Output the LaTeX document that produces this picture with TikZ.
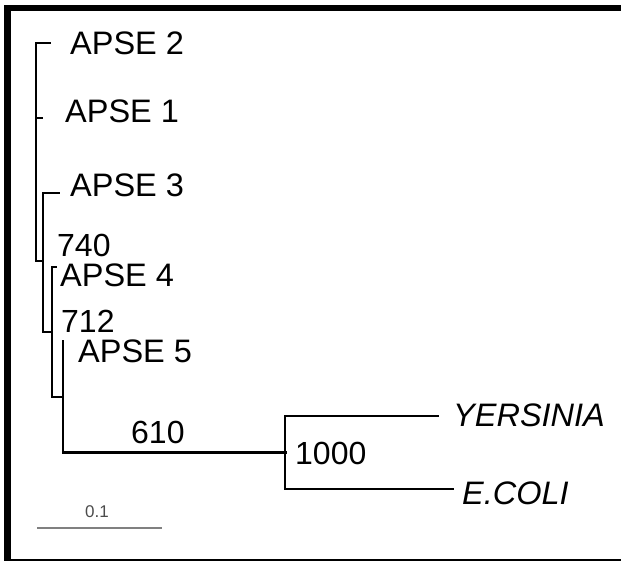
\documentclass[tikz,border=0pt]{standalone}
\usepackage{fontspec}
\setmainfont{Liberation Sans}
\begin{document}
\begin{tikzpicture}[x=1pt,y=-1pt,
  branch/.style={line width=2.4pt, line cap=rect, line join=miter},
  stem/.style={line width=3pt, line cap=rect},
  taxon/.style={font=\fontsize{32.5}{38}\selectfont, inner sep=0pt, anchor=base west},
  boot/.style={font=\fontsize{32}{38}\selectfont, inner sep=0pt, anchor=base west},
  scalelbl/.style={font=\fontsize{17}{20}\selectfont, text=black!70, inner sep=0pt, anchor=base west}]
\useasboundingbox (0,0) rectangle (621,561);

% frame
\fill[black] (4,5) rectangle (621,11);
\fill[black] (4,5) rectangle (11,559);
\draw[line width=1.5pt] (4,560) -- (621,560);

% internal nodes (top and bottom of each vertical)
\coordinate (a)  at (36,43);  \coordinate (ab) at (36,261);
\coordinate (b)  at (43,193); \coordinate (bb) at (43,332);
\coordinate (c)  at (52,267); \coordinate (cb) at (52,397);
\coordinate (d)  at (63,341); \coordinate (db) at (63,452);
\coordinate (e)  at (285,416); \coordinate (eb) at (285,489);
\coordinate (em) at (285,452);

% leaf tips
\coordinate (t2) at (50,43);
\coordinate (t1) at (42,118);
\coordinate (t3) at (59,193);
\coordinate (t4) at (56,267);
\coordinate (ty) at (438,416);
\coordinate (te) at (453,489);

% branches
\draw[branch] (t2) -- (a) -- (ab) -- (b |- ab);
\draw[branch] (a |- t1) -- (t1);
\draw[branch] (t3) -- (b) -- (bb) -- (c |- bb);
\draw[branch] (t4) -- (c) -- (cb) -- (d |- cb);
\draw[branch] (d) -- (db);
\draw[stem] (db) -- (em);
\draw[branch] (ty) -- (e) -- (eb) -- (te);

% taxa
\node[taxon] (apse2) at (70,55)  {APSE 2};
\node[taxon] (apse1) at (65,123) {APSE 1};
\node[taxon] (apse3) at (70,197) {APSE 3};
\node[taxon] (apse4) at (60,287) {APSE 4};
\node[taxon] (apse5) at (78,362) {APSE 5};
\node[taxon] (yer) at (453,426) {\itshape YERSINIA};
\node[taxon] (eco) at (462,504) {\itshape E.COLI};

% bootstrap values
\node[boot] (b740)  at (57,257)  {740};
\node[boot] (b712)  at (61,332)  {712};
\node[boot] (b610)  at (131,443) {610};
\node[boot] (b1000) at (295,464) {1000};

% scale bar
\coordinate (s0) at (37,528);
\coordinate (s1) at (162,528);
\draw[line width=1.8pt, black!50] (s0) -- (s1);
\node[scalelbl] (scl) at (85,517) {0.1};
\end{tikzpicture}
\end{document}
